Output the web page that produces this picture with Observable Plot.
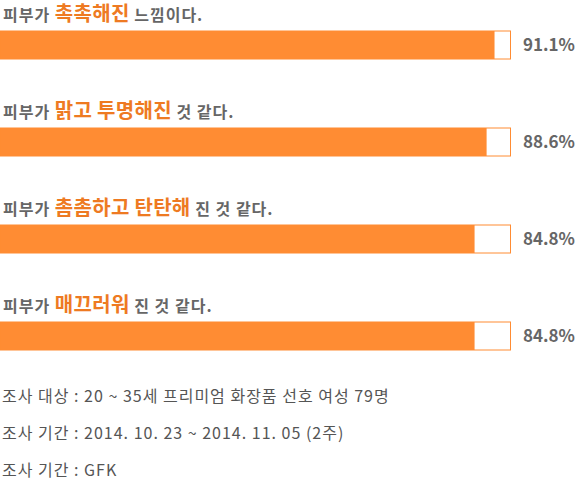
<!DOCTYPE html>
<html><head><meta charset="utf-8">
<script src="https://cdn.jsdelivr.net/npm/d3@7"></script>
<script src="https://cdn.jsdelivr.net/npm/@observablehq/plot@0.6"></script>
<style>
body{margin:0;background:#fff;font-family:"Noto Sans CJK KR","Noto Sans",sans-serif;}
#notes{color:#555;font-size:16px;letter-spacing:1px;line-height:37px;padding-left:2px;margin-top:0}
</style></head><body>
<div id="chart"></div>
<div id="notes"></div>
<script>
const categories = ["촉촉해진", "맑고 투명해진", "촘촘하고 탄탄해", "매끄러워"];
const prefixes = ["피부가 ", "피부가 ", "피부가 ", "피부가 "];
const suffixes = [" 느낌이다.", " 것 같다.", " 진 것 같다.", " 진 것 같다."];
const values = [91.1, 88.6, 84.8, 84.8];
const notes = [
  "조사 대상 : 20 ~ 35세 프리미엄 화장품 선호 여성 79명",
  "조사 기간 : 2014. 10. 23 ~ 2014. 11. 05 (2주)",
  "조사 기간 : GFK"
];

const X0 = -64.8, X1 = 96.14;
const rows = categories.map((c, i) => ({cat: c, prefix: prefixes[i], suffix: suffixes[i], value: values[i]}));
const ORANGE = "#ff8c33", TEXTORANGE = "#ee7a22", GRAY = "#666666";

const chart = Plot.plot({
  width: 579, height: 377,
  marginTop: 0, marginBottom: 0, marginLeft: 0, marginRight: 0,
  style: {fontFamily: '"Noto Sans CJK KR","Noto Sans",sans-serif', background: "white"},
  x: {domain: [X0, X1], range: [0.5, 510.5], axis: null},
  y: {type: "band", domain: categories, range: [30, 351], paddingInner: 0.714, paddingOuter: 0, axis: null},
  marks: [
    Plot.barX(rows, {x1: () => X0, x2: () => X1, y: "cat", fill: "white", stroke: ORANGE, strokeWidth: 1}),
    Plot.barX(rows, {x1: () => X0, x2: "value", y: "cat", fill: ORANGE}),
    Plot.text(rows, {x: () => X1, y: "cat", text: d => d.value.toFixed(1) + "%", textAnchor: "start", dx: 12, fontSize: 17, fontWeight: "bold", fill: GRAY}),
    Plot.text(rows, {x: () => X0, y: "cat", text: d => d.prefix + d.cat + d.suffix, textAnchor: "start", dx: 2, dy: -30, lineAnchor: "middle", fontSize: 16, fontWeight: "bold", fill: GRAY})
  ]
});
document.getElementById("chart").appendChild(chart);

// style the highlighted phrase of each row label
d3.select(chart).selectAll("text").each(function() {
  const t = this.textContent;
  const r = rows.find(r => t === r.prefix + r.cat + r.suffix);
  if (!r) return;
  const sel = d3.select(this);
  sel.text(null);
  sel.append("tspan").attr("letter-spacing", 1).text(r.prefix);
  sel.append("tspan").attr("fill", TEXTORANGE).attr("font-size", 20).attr("letter-spacing", 0.3).text(r.cat);
  sel.append("tspan").attr("letter-spacing", 1).text(r.suffix);
});

d3.select("#notes").selectAll("div").data(notes).join("div").text(d => d);
</script>
</body></html>
